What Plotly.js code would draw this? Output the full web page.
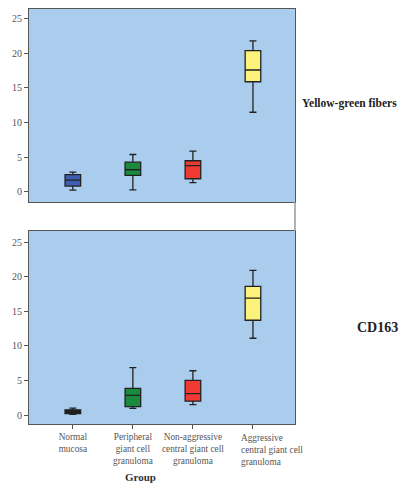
<!DOCTYPE html>
<html>
<head>
<meta charset="utf-8">
<script src="https://cdn.plot.ly/plotly-3.0.1.min.js"></script>
<style>html,body{margin:0;padding:0;background:#fff;}#chart{width:418px;height:485px;}</style>
</head>
<body>
<div id="chart"></div>
<script>
// Categories and tick labels
const groups = ["Normal mucosa", "Peripheral giant cell granuloma", "Non-aggressive central giant cell granuloma", "Aggressive central giant cell granuloma"];
const tickLabels = ["Normal<br>mucosa", "Peripheral<br>giant cell<br>granuloma", "Non-aggressive<br>central giant cell<br>granuloma", "Aggressive<br>central giant cell<br>granuloma"];
const boxColors = ["#3f5db0", "#1a8a3c", "#f23a34", "#fbf27c"];

// Yellow-green fibers (top panel)
const ygLower  = [0.25, 0.3, 1.35, 11.5];
const ygQ1     = [0.85, 2.4, 1.9, 15.9];
const ygMedian = [1.7, 3.2, 3.8, 17.6];
const ygQ3     = [2.5, 4.3, 4.5, 20.4];
const ygUpper  = [2.85, 5.4, 5.9, 21.8];

// CD163 (bottom panel)
const cdLower  = [0.1, 0.95, 1.5, 11.1];
const cdQ1     = [0.2, 1.2, 2.0, 13.7];
const cdMedian = [0.45, 2.85, 3.1, 16.9];
const cdQ3     = [0.75, 3.85, 5.0, 18.6];
const cdUpper  = [1.0, 6.85, 6.4, 20.9];

const traces = [];
function addPanel(lower, q1, med, q3, upper, xa, ya, darkFirst) {
  groups.forEach((g, i) => {
    traces.push({
      type: "box",
      x: [i], q1: [q1[i]], median: [med[i]], q3: [q3[i]],
      lowerfence: [lower[i]], upperfence: [upper[i]],
      xaxis: xa, yaxis: ya,
      width: 0.26, whiskerwidth: 0.45,
      fillcolor: (darkFirst && i === 0) ? "#1a1a1a" : boxColors[i],
      line: { color: "#222", width: 1.3 },
      boxpoints: false, showlegend: false, hoverinfo: "skip"
    });
  });
}
addPanel(ygLower, ygQ1, ygMedian, ygQ3, ygUpper, "x2", "y2", false);
addPanel(cdLower, cdQ1, cdMedian, cdQ3, cdUpper, "x", "y", true);

const serif = "Liberation Serif, DejaVu Serif, serif";
const tickFont = { family: serif, size: 10, color: "#555" };
const catFont = { family: serif, size: 9.3, color: "#555" };
const yCommon = {
  tickvals: [0, 5, 10, 15, 20, 25], ticks: "outside", ticklen: 4, tickcolor: "#555",
  tickfont: tickFont, showgrid: false, zeroline: false,
  showline: true, mirror: true, linecolor: "#555", linewidth: 1
};

const layout = {
  width: 418, height: 485,
  margin: { l: 29, r: 123, t: 9, b: 61 },
  paper_bgcolor: "#fff", plot_bgcolor: "#aacdee",
  xaxis: {
    domain: [0, 1], anchor: "y", range: [-0.73, 3.7], automargin: false,
    tickvals: [0, 1, 2, 3], ticktext: tickLabels.slice(0, 3).concat([""]), tickangle: 0,
    ticks: "outside", ticklen: 4, tickcolor: "#555",
    tickfont: catFont,
    showgrid: false, zeroline: false, showline: true, mirror: true, linecolor: "#555", linewidth: 1
  },
  xaxis2: {
    domain: [0, 1], anchor: "y2", range: [-0.73, 3.7],
    showticklabels: false, ticks: "", showgrid: false, zeroline: false,
    showline: true, mirror: true, linecolor: "#555", linewidth: 1
  },
  yaxis: Object.assign({ domain: [0, 0.465], range: [-1.3, 26.6], anchor: "x" }, yCommon),
  yaxis2: Object.assign({ domain: [0.535, 1], range: [-1.45, 26.4], anchor: "x2" }, yCommon),
  shapes: [
    { type: "line", xref: "paper", yref: "paper", x0: 1, x1: 1, y0: 0.465, y1: 0.535, line: { color: "#999", width: 1.5 } }
  ],
  annotations: [
    { xref: "x", yref: "paper", x: 3, y: -0.016, xanchor: "left", yanchor: "top", xshift: -14, showarrow: false,
      align: "left", text: tickLabels[3], font: catFont },
    { xref: "paper", yref: "paper", x: 1.019, y: 0.772, xanchor: "left", yanchor: "middle", showarrow: false,
      text: "<b>Yellow-green fibers</b>", font: { family: serif, size: 11.5, color: "#222" } },
    { xref: "paper", yref: "paper", x: 1.226, y: 0.232, xanchor: "left", yanchor: "middle", showarrow: false,
      text: "<b>CD163</b>", font: { family: serif, size: 14, color: "#222" } },
    { xref: "paper", yref: "paper", x: 0.42, y: -0.128, xanchor: "center", yanchor: "middle", showarrow: false,
      text: "<b>Group</b>", font: { family: serif, size: 11, color: "#333" } }
  ]
};

Plotly.newPlot("chart", traces, layout, { displayModeBar: false, staticPlot: true });
</script>
</body>
</html>
